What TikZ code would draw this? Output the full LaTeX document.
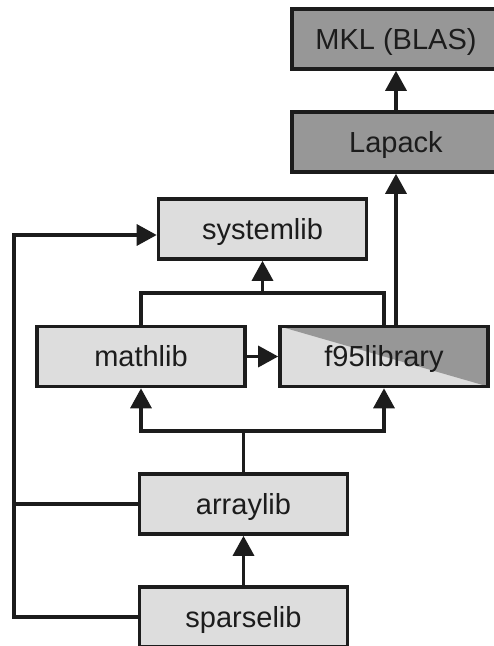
\documentclass[tikz,border=0pt]{standalone}
\usepackage{fontspec}
\setmainfont{Liberation Sans}
\usetikzlibrary{arrows.meta}
\definecolor{boxlight}{RGB}{221,221,221}
\definecolor{boxdark}{RGB}{151,151,151}
\definecolor{ink}{RGB}{28,28,28}
\begin{document}
\begin{tikzpicture}[x=1pt,y=-1pt,
  lib/.style={draw=ink, line width=3.6pt, fill=boxlight, rectangle,
    minimum width=208pt, minimum height=60pt, inner sep=0pt,
    font=\fontsize{29}{33}\selectfont, text=ink,
    text height=20.8pt, text depth=0pt},
  extlib/.style={lib, fill=boxdark},
  split/.style={path picture={
    \fill[boxdark] (path picture bounding box.north west)
      -- (path picture bounding box.north east)
      -- (path picture bounding box.south east) -- cycle;}},
  link/.style={draw=ink, line width=3.3pt, miter limit=10},
  arr/.style={link, -{Triangle[length=20pt,width=21pt]}}]
\useasboundingbox (0,0) rectangle (494,646);

% libraries
\node[extlib] (mkl)       at (396,39)    {MKL (BLAS)};
\node[extlib] (lapack)    at (396,142)   {Lapack};
\node[lib]    (systemlib) at (262.5,229) {systemlib};
\node[lib]    (mathlib)   at (141,356.5) {mathlib};
\node[lib, split] (f95)   at (384,356.5) {f95library};
\node[lib]    (arraylib)  at (243.5,504) {arraylib};
\node[lib]    (sparselib) at (243.5,617) {sparselib};

% junction points
\coordinate (sysbus) at (262.5,293);
\coordinate (arrbus) at (243.5,431);
\coordinate (railtop) at (14,235);

% dependencies
\draw[arr] (lapack.north) -- (mkl.south);
\draw[arr] ([xshift=12pt]f95.north) -- (lapack.south);
\draw[link] (mathlib.north) |- (sysbus) -| (f95.north);
\draw[arr] (sysbus) -- (systemlib.south);
\draw[arr] (mathlib.east) -- (f95.west);
\draw[link] (arraylib.north) -- (arrbus);
\draw[arr] (arrbus) -| (mathlib.south);
\draw[arr] (arrbus) -| (f95.south);
\draw[arr] (sparselib.north) -- (arraylib.south);
\draw[arr] (sparselib.west) -| (railtop) -- ([yshift=-6pt]systemlib.west);
\draw[link] (arraylib.west) -- (arraylib.west -| railtop);
\end{tikzpicture}
\end{document}
